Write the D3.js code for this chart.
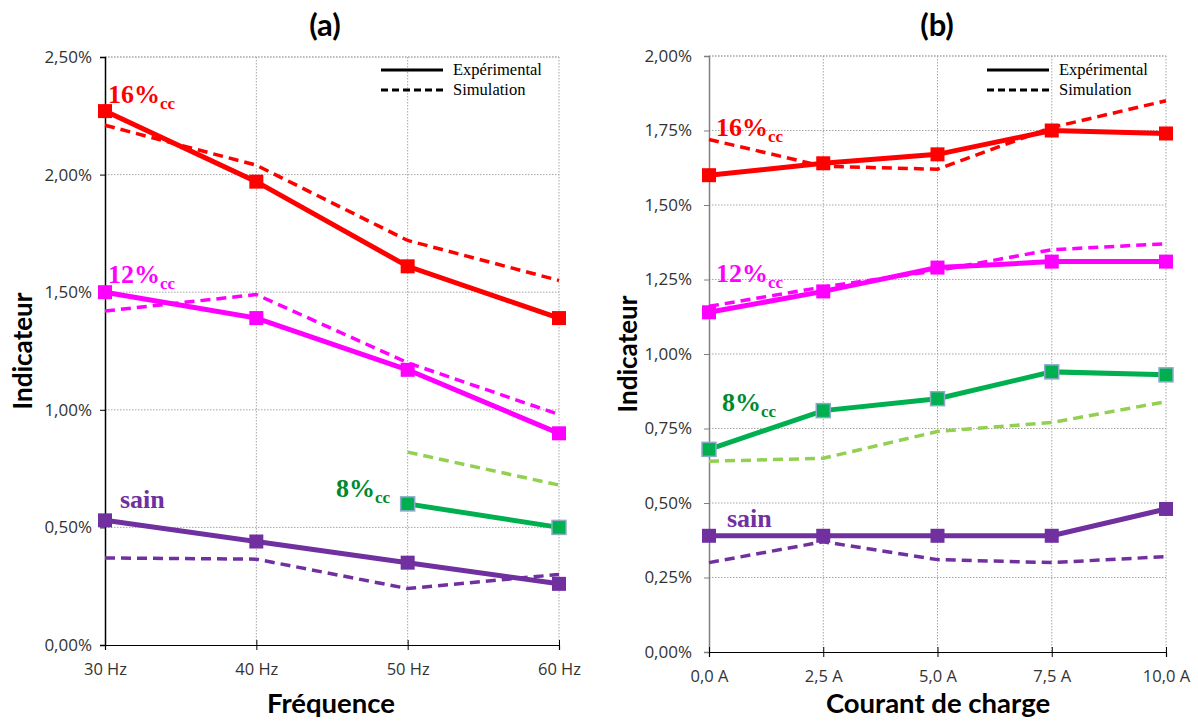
<!DOCTYPE html>
<html><head><meta charset="utf-8">
<script src="https://cdn.jsdelivr.net/npm/d3@7"></script>
<style>body{margin:0;background:#fff}svg{display:block}</style>
</head><body>
<svg id="c" width="1198" height="722"></svg>
<script>
// ---- Data ----
const freqCats = ["30 Hz","40 Hz","50 Hz","60 Hz"];
const freqRed = [2.27,1.97,1.61,1.39];
const freqRedSim = [2.21,2.04,1.72,1.55];
const freqMag = [1.50,1.39,1.17,0.90];
const freqMagSim = [1.42,1.49,1.20,0.98];
const freqGreen = [null,null,0.60,0.50];
const freqGreenSim = [null,null,0.82,0.68];
const freqPurple = [0.53,0.44,0.35,0.26];
const freqPurpleSim = [0.37,0.365,0.24,0.30];
const freqYTicks = [0,0.5,1.0,1.5,2.0,2.5];

const curCats = ["0,0 A","2,5 A","5,0 A","7,5 A","10,0 A"];
const curRed = [1.60,1.64,1.67,1.75,1.74];
const curRedSim = [1.72,1.63,1.62,1.76,1.85];
const curMag = [1.14,1.21,1.29,1.31,1.31];
const curMagSim = [1.16,1.225,1.28,1.35,1.37];
const curGreen = [0.68,0.81,0.85,0.94,0.93];
const curGreenSim = [0.64,0.65,0.74,0.77,0.84];
const curPurple = [0.39,0.39,0.39,0.39,0.48];
const curPurpleSim = [0.30,0.37,0.31,0.30,0.32];
const curYTicks = [0,0.25,0.5,0.75,1.0,1.25,1.5,1.75,2.0];

const svg = d3.select("#c");
const fmt = v => v.toFixed(2).replace(".", ",") + "%";
const SANS = "'Open Sans', Lato, sans-serif";
const BOLD = "Lato, 'Open Sans', sans-serif";

function panel(o){
  const g = svg.append("g");
  const x = d3.scalePoint().domain(o.cats).range([o.left,o.right]);
  const y = d3.scaleLinear().domain([0,o.ymax]).range([o.bottom,o.top]);
  // grid
  g.selectAll(".hg").data(o.yticks.slice(1)).join("line")
    .attr("x1",o.left).attr("x2",o.right).attr("y1",d=>y(d)).attr("y2",d=>y(d))
    .attr("stroke","#a6a6a6").attr("stroke-width",1).attr("stroke-dasharray","1.5,1.5");
  g.selectAll(".vg").data(o.cats.slice(1)).join("line")
    .attr("x1",d=>x(d)).attr("x2",d=>x(d)).attr("y1",o.top).attr("y2",o.bottom)
    .attr("stroke","#a6a6a6").attr("stroke-width",1).attr("stroke-dasharray","1.5,1.5");
  g.append("line").attr("x1",o.left).attr("x2",o.right).attr("y1",o.top).attr("y2",o.top)
    .attr("stroke","#a6a6a6").attr("stroke-dasharray","1.5,1.5");
  // axes
  const ya = g.append("g").attr("transform",`translate(${o.left},0)`)
    .call(d3.axisLeft(y).tickValues(o.yticks).tickFormat(fmt).tickSize(5).tickPadding(o.yPad));
  ya.select(".domain").attr("stroke",o.yAxisColor).attr("stroke-width",1.5);
  ya.selectAll(".tick line").attr("stroke",o.yAxisColor);
  ya.selectAll("text").attr("font-family",SANS).attr("font-size",17).attr("fill","#333");
  const xa = g.append("g").attr("transform",`translate(0,${o.bottom})`)
    .call(d3.axisBottom(x).tickSize(5).tickPadding(13));
  xa.select(".domain").attr("stroke","#000").attr("stroke-width",1.2);
  xa.selectAll(".tick line").attr("stroke","#000").attr("y1",-5);
  xa.selectAll("text").attr("font-family",SANS).attr("font-size",16.5).attr("fill","#333");

  const line = d3.line().defined(d=>d.v!=null).x(d=>x(d.c)).y(d=>y(d.v));
  const toPts = arr => arr.map((v,i)=>({c:o.cats[i],v}));
  o.series.forEach(s=>{
    if(s.sim){
      g.append("path").attr("d",line(toPts(s.values))).attr("fill","none")
        .attr("stroke",s.color).attr("stroke-width",3.5).attr("stroke-dasharray","10,6");
    }
  });
  o.series.forEach(s=>{
    if(!s.sim){
      const pts = toPts(s.values);
      g.append("path").attr("d",line(pts)).attr("fill","none")
        .attr("stroke",s.color).attr("stroke-width",5);
      g.selectAll(null).data(pts.filter(d=>d.v!=null)).join("rect")
        .attr("x",d=>x(d.c)-7).attr("y",d=>y(d.v)-7).attr("width",14).attr("height",14)
        .attr("fill",s.color).attr("stroke",s.marker||"none").attr("stroke-width",s.marker?1.5:0);
    }
  });
  // titles
  svg.append("text").attr("x",o.titleX).attr("y",36).attr("text-anchor","middle")
    .attr("font-family",BOLD).attr("font-weight","bold").attr("font-size",31).text(o.title);
  svg.append("text").attr("x",o.xTitleX).attr("y",713).attr("text-anchor","middle")
    .attr("font-family",BOLD).attr("font-weight","bold").attr("font-size",27.5).text(o.xTitle);
  svg.append("text").attr("transform",`translate(${o.left-o.yTitleOff},${(o.top+o.bottom)/2}) rotate(-90)`)
    .attr("text-anchor","middle")
    .attr("font-family",BOLD).attr("font-weight","bold").attr("font-size",26).text("Indicateur");
  // legend
  const lg = svg.append("g");
  lg.append("line").attr("x1",o.legX).attr("x2",o.legX+62).attr("y1",70).attr("y2",70).attr("stroke","#000").attr("stroke-width",3);
  lg.append("line").attr("x1",o.legX).attr("x2",o.legX+62).attr("y1",90).attr("y2",90).attr("stroke","#000").attr("stroke-width",3).attr("stroke-dasharray","7,4");
  lg.append("text").attr("x",o.legX+72).attr("y",75).attr("font-family","'Liberation Serif', serif").attr("font-size",16.5).text("Expérimental");
  lg.append("text").attr("x",o.legX+72).attr("y",95).attr("font-family","'Liberation Serif', serif").attr("font-size",16.5).text("Simulation");
  // labels
  o.labels.forEach(l=>{
    const t = svg.append("text").attr("x",l.x).attr("y",l.y).attr("fill",l.color)
      .attr("font-family","'Liberation Serif', serif").attr("font-weight","bold").attr("font-size",26);
    t.append("tspan").text(l.text);
    if(l.sub) t.append("tspan").attr("font-size",17).attr("dy",6).text(l.sub);
  });
}

panel({cats:freqCats,left:105,right:559,top:57,bottom:645,ymax:2.5,yticks:freqYTicks,
  yAxisColor:"#000",title:"(a)",titleX:325,xTitle:"Fréquence",xTitleX:331,yTitleOff:73,yPad:8,legX:381,
  series:[
    {values:freqRedSim,color:"#ff0000",sim:true},
    {values:freqMagSim,color:"#ff00ff",sim:true},
    {values:freqGreenSim,color:"#92d050",sim:true},
    {values:freqPurpleSim,color:"#7030a0",sim:true},
    {values:freqRed,color:"#ff0000"},
    {values:freqMag,color:"#ff00ff"},
    {values:freqGreen,color:"#00b050",marker:"#8ea9c8"},
    {values:freqPurple,color:"#7030a0"}
  ],
  labels:[
    {x:108,y:103,text:"16%",sub:"cc",color:"#ff0000"},
    {x:108,y:283,text:"12%",sub:"cc",color:"#ff00ff"},
    {x:336,y:497,text:"8%",sub:"cc",color:"#008a2e"},
    {x:120,y:508,text:"sain",color:"#7030a0"}
  ]});

panel({cats:curCats,left:709,right:1166,top:56,bottom:652,ymax:2.0,yticks:curYTicks,
  yAxisColor:"#808080",title:"(b)",titleX:937,xTitle:"Courant de charge",xTitleX:938,yTitleOff:72,yPad:12,legX:987,
  series:[
    {values:curRedSim,color:"#ff0000",sim:true},
    {values:curMagSim,color:"#ff00ff",sim:true},
    {values:curGreenSim,color:"#92d050",sim:true},
    {values:curPurpleSim,color:"#7030a0",sim:true},
    {values:curRed,color:"#ff0000"},
    {values:curMag,color:"#ff00ff"},
    {values:curGreen,color:"#00b050",marker:"#8ea9c8"},
    {values:curPurple,color:"#7030a0"}
  ],
  labels:[
    {x:716,y:136,text:"16%",sub:"cc",color:"#ff0000"},
    {x:716,y:282,text:"12%",sub:"cc",color:"#ff00ff"},
    {x:722,y:411,text:"8%",sub:"cc",color:"#008a2e"},
    {x:727,y:527,text:"sain",color:"#7030a0"}
  ]});
</script>
</body></html>
